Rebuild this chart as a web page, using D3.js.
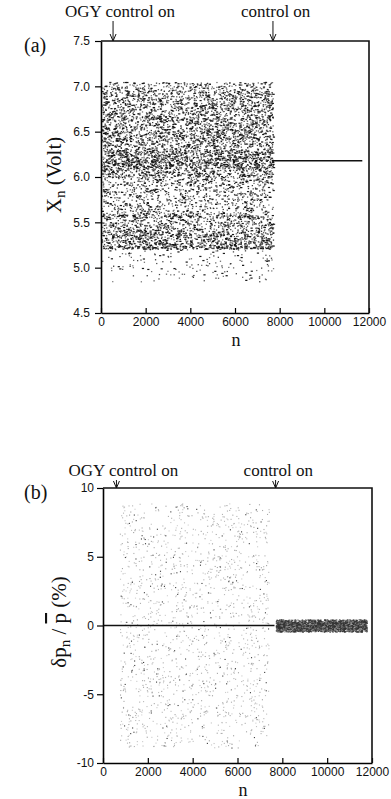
<!DOCTYPE html>
<html>
<head>
<meta charset="utf-8">
<script src="https://cdn.jsdelivr.net/npm/d3@7"></script>
<style>
  body { margin: 0; background: #fff; }
  svg { display: block; }
  .tick text { font-family: "Liberation Sans", Arial, sans-serif; font-size: 12px; fill: #111; }
  .serif { font-family: "Liberation Serif", "Times New Roman", serif; fill: #111; }
</style>
</head>
<body>
<svg id="chart" width="391" height="799"></svg>
<script>
// panel (a): X_n bins (volt) and point density per 0.01 V
const edgesA = [4.85, 5.00, 5.10, 5.21, 5.24, 5.30, 5.40, 5.50, 5.55, 5.59, 5.70, 5.80, 5.90, 6.00, 6.10, 6.20, 6.30, 6.40, 6.50, 6.60, 6.70, 6.80, 6.90, 6.97, 7.05];
const densityA = [4, 5, 5, 80, 45, 45, 35, 25, 50, 22, 20, 22, 25, 40, 60, 55, 35, 45, 40, 40, 35, 35, 35, 25];
const chaosRangeA = [0, 7700];
const controlLevelA = 6.18;
const controlRangeA = [7650, 11700];

// panel (b): power deviation (%) bins and density per 1 %
const edgesB = [-8.9, -8, -6, -4, -2, 0, 2, 4, 6, 8, 8.9];
const densityB = [80, 95, 95, 95, 95, 95, 95, 95, 95, 80];
const chaosRangeB = [750, 7400];
const edgesC = [-0.45, -0.3, -0.1, 0.1, 0.3, 0.45];
const densityC = [1800, 2600, 3000, 2600, 1800];
const controlRangeB = [7700, 11750];
const zeroLineB = [0, 7650];

const xTicks = [0, 2000, 4000, 6000, 8000, 10000, 12000];
const yTicksA = [4.5, 5.0, 5.5, 6.0, 6.5, 7.0, 7.5];
const yTicksB = [-10, -5, 0, 5, 10];
const ogyOn = [540, 600];
const controlOn = [7700, 7700];

const svg = d3.select("#chart");

// integer hash, only used to scatter the measured bin counts inside their cell
function hash(k) {
  let h = Math.imul(k ^ 0x9e3779b9, 0x85ebca6b) >>> 0;
  h ^= h >>> 13;
  h = Math.imul(h, 0xc2b2ae35) >>> 0;
  h ^= h >>> 16;
  return (h >>> 0) / 4294967296;
}

function cellPoints(edges, density, unit, nRange, seed) {
  const pts = [];
  let k = seed;
  for (let j = 0; j < density.length; j++) {
    const lo = edges[j], hi = edges[j + 1];
    const count = Math.round(density[j] * (hi - lo) / unit);
    for (let i = 0; i < count; i++) {
      k++;
      const u = hash(k * 3 + 1);
      const v = hash(k * 3 + 2);
      pts.push({ n: nRange[0] + u * (nRange[1] - nRange[0]), y: lo + v * (hi - lo), s: hash(k * 3 + 3) });
    }
  }
  return pts;
}

function drawFrame(x, y, yTicks, fmt, pad) {
  const g = svg.append("g");

  g.append("g")
    .attr("transform", `translate(0,${y.range()[0]})`)
    .call(d3.axisBottom(x).tickValues(xTicks).tickFormat(d3.format("d")).tickSize(-5).tickSizeOuter(0).tickPadding(4))
    .call((a) => a.select(".domain").attr("stroke-width", 1.6))
    .call((a) => a.selectAll(".tick line").attr("stroke-width", 1.2));

  g.append("g")
    .attr("transform", `translate(${x.range()[0]},0)`)
    .call(d3.axisLeft(y).tickValues(yTicks).tickFormat(fmt).tickSize(6).tickSizeOuter(0).tickPadding(pad))
    .call((a) => a.select(".domain").attr("stroke-width", 1.6))
    .call((a) => a.selectAll(".tick line").attr("stroke-width", 1.2));

  g.append("path")
    .attr("d", `M${x.range()[0]},${y.range()[1]}H${x.range()[1]}V${y.range()[0]}`)
    .attr("fill", "none")
    .attr("stroke", "#111")
    .attr("stroke-width", 1.6);
}

function drawArrows(x, top, textY, nOgy, nCtrl) {
  const labels = [
    { text: "OGY control on", n: nOgy, dx: -48 },
    { text: "control on", n: nCtrl, dx: -32 }
  ];
  labels.forEach((l) => {
    const px = x(l.n);
    svg.append("text")
      .attr("class", "serif")
      .attr("x", px + l.dx)
      .attr("y", textY)
      .attr("font-size", 17)
      .text(l.text);
    svg.append("line")
      .attr("x1", px).attr("x2", px)
      .attr("y1", textY + 4).attr("y2", top)
      .attr("stroke", "#111").attr("stroke-width", 1);
    svg.append("path")
      .attr("d", `M${px - 3},${top - 7}L${px},${top}L${px + 3},${top - 7}`)
      .attr("fill", "none").attr("stroke", "#111").attr("stroke-width", 1);
  });
}

// ---------- panel (a)
const xA = d3.scaleLinear().domain([0, 12000]).range([101, 369]);
const yA = d3.scaleLinear().domain([4.5, 7.5]).range([313, 41]);

const ptsA = cellPoints(edgesA, densityA, 0.01, chaosRangeA, 0);
svg.append("g")
  .selectAll("rect")
  .data(ptsA)
  .enter()
  .append("rect")
  .attr("x", (d) => xA(d.n))
  .attr("y", (d) => yA(d.y))
  .attr("width", (d) => (d.s > 0.8 ? 2.2 : 1.3))
  .attr("height", 1.2)
  .attr("fill", "#111")
  .attr("opacity", (d) => 0.55 + 0.45 * d.s);

svg.append("line")
  .attr("x1", xA(controlRangeA[0])).attr("x2", xA(controlRangeA[1]))
  .attr("y1", yA(controlLevelA)).attr("y2", yA(controlLevelA))
  .attr("stroke", "#111").attr("stroke-width", 1.4);

drawFrame(xA, yA, yTicksA, d3.format(".1f"), 5);
drawArrows(xA, 41, 17, ogyOn[0], controlOn[0]);

svg.append("text").attr("class", "serif").attr("x", 24).attr("y", 52).attr("font-size", 20).text("(a)");

svg.append("text")
  .attr("class", "serif")
  .attr("transform", "translate(61,175) rotate(-90)")
  .attr("text-anchor", "middle")
  .attr("font-size", 21)
  .call((t) => {
    t.append("tspan").text("X");
    t.append("tspan").attr("font-size", 15).attr("dy", 4).text("n");
    t.append("tspan").attr("dy", -4).text(" (Volt)");
  });

svg.append("text").attr("class", "serif").attr("x", 236).attr("y", 346)
  .attr("text-anchor", "middle").attr("font-size", 18).text("n");

// ---------- panel (b)
const xB = d3.scaleLinear().domain([0, 12000]).range([103, 372]);
const yB = d3.scaleLinear().domain([-10, 10]).range([763, 488]);

const ptsB = cellPoints(edgesB, densityB, 1, chaosRangeB, 50000);
svg.append("g")
  .selectAll("rect")
  .data(ptsB)
  .enter()
  .append("rect")
  .attr("x", (d) => xB(d.n))
  .attr("y", (d) => yB(d.y))
  .attr("width", 1.1)
  .attr("height", 1.1)
  .attr("fill", (d) => (d.s > 0.9 ? "#333" : "#999"))
  .attr("opacity", (d) => 0.45 + 0.55 * d.s);

svg.append("line")
  .attr("x1", xB(zeroLineB[0])).attr("x2", xB(zeroLineB[1]))
  .attr("y1", yB(0)).attr("y2", yB(0))
  .attr("stroke", "#111").attr("stroke-width", 1.4);

const ptsC = cellPoints(edgesC, densityC, 1, controlRangeB, 90000);
svg.append("g")
  .selectAll("rect")
  .data(ptsC)
  .enter()
  .append("rect")
  .attr("x", (d) => xB(d.n))
  .attr("y", (d) => yB(d.y))
  .attr("width", 1.5)
  .attr("height", 1)
  .attr("fill", (d) => (d.s > 0.7 ? "#888" : "#333"))
  .attr("opacity", 0.9);

drawFrame(xB, yB, yTicksB, (d) => String(d), 3);
drawArrows(xB, 488, 476, ogyOn[1], controlOn[1]);

svg.append("text").attr("class", "serif").attr("x", 24).attr("y", 499).attr("font-size", 20).text("(b)");

svg.append("text")
  .attr("class", "serif")
  .attr("transform", "translate(66,622) rotate(-90)")
  .attr("text-anchor", "middle")
  .attr("font-size", 21)
  .call((t) => {
    t.append("tspan").text("δp");
    t.append("tspan").attr("font-size", 15).attr("dy", 4).text("n");
    t.append("tspan").attr("dy", -4).text(" / ");
    t.append("tspan").attr("text-decoration", "overline").text("p");
    t.append("tspan").text(" (%)");
  });

svg.append("text").attr("class", "serif").attr("x", 243).attr("y", 796)
  .attr("text-anchor", "middle").attr("font-size", 18).text("n");
</script>
</body>
</html>
